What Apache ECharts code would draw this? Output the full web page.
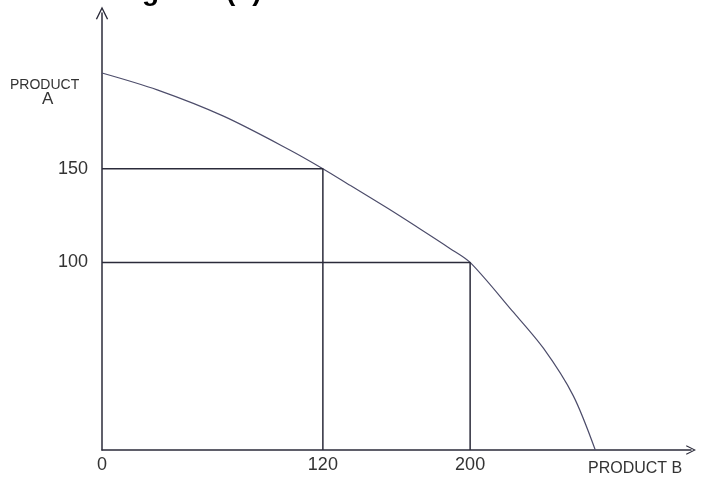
<!DOCTYPE html>
<html>
<head>
<meta charset="utf-8">
<script src="https://cdn.jsdelivr.net/npm/echarts@6/dist/echarts.min.js"></script>
<style>
  html, body { margin: 0; padding: 0; background: #fff; }
  #main { width: 704px; height: 479px; }
</style>
</head>
<body>
<div id="main"></div>
<script>
// production possibility curve
const curveB = [0, 30, 66, 102, 120, 135, 155, 171, 189, 200, 223, 240, 256, 268];
const curveA = [201, 192, 178, 160, 150, 141, 129, 119, 107.5, 100, 74, 54, 29, 0];

// the two marked combinations (product B, product A)
const pointOne = [120, 150];
const pointTwo = [200, 100];

const xTicks = [0, 120, 200];
const yTicks = [100, 150];

const lineColor = "#2b2b3a";
const handFont = "Liberation Sans";

// drop lines from each point to both axes
function dropLines(p) {
  return [[0, p[1]], [p[0], p[1]], [p[0], 0]];
}

let myChart = echarts.init(document.getElementById("main"));

// open chevron, tip pointing up
const caret = "path://M0,10 L5,0 L10,10 L9,10.5 L5,2.4 L1,10.5 Z";

let option = {
  animation: false,
  grid: {
    left: 102,
    right: 13,
    top: 13,
    bottom: 29
  },
  xAxis: {
    type: "value",
    min: 0,
    max: 320,
    splitLine: { show: false },
    axisTick: { show: false },
    axisLine: {
      lineStyle: { color: lineColor, width: 1.5 },
      symbol: ["none", caret],
      symbolSize: [16, 10]
    },
    axisLabel: {
      customValues: xTicks,
      margin: 6,
      color: "#333",
      fontSize: 18,
      fontFamily: handFont
    }
  },
  yAxis: {
    type: "value",
    min: 0,
    max: 233,
    splitLine: { show: false },
    axisTick: { show: false },
    axisLine: {
      lineStyle: { color: lineColor, width: 1.5 },
      symbol: ["none", caret],
      symbolSize: [18, 13]
    },
    axisLabel: {
      customValues: yTicks,
      margin: 14,
      color: "#333",
      fontSize: 18,
      fontFamily: handFont
    }
  },
  graphic: [
    {
      type: "text",
      left: 117,
      top: -22,
      style: {
        text: "Figure 2(b)",
        font: "bold 28px 'Liberation Sans'",
        fill: "#000"
      }
    },
    {
      type: "text",
      left: 10,
      top: 78,
      style: {
        text: "PRODUCT",
        font: "14px 'Liberation Sans'",
        fill: "#333"
      }
    },
    {
      type: "text",
      left: 42,
      top: 91,
      style: {
        text: "A",
        font: "17px 'Liberation Sans'",
        fill: "#333"
      }
    },
    {
      type: "text",
      left: 588,
      top: 461,
      style: {
        text: "PRODUCT B",
        font: "16px 'Liberation Sans'",
        fill: "#333"
      }
    }
  ],
  series: [
    {
      name: "curve",
      type: "line",
      smooth: 0.3,
      symbol: "none",
      lineStyle: { color: "#4d4d6b", width: 1.2 },
      data: curveB.map((b, i) => [b, curveA[i]])
    },
    {
      name: "point one",
      type: "line",
      symbol: "none",
      lineStyle: { color: lineColor, width: 1.5 },
      data: dropLines(pointOne)
    },
    {
      name: "point two",
      type: "line",
      symbol: "none",
      lineStyle: { color: lineColor, width: 1.5 },
      data: dropLines(pointTwo)
    }
  ]
};

myChart.setOption(option);
</script>
</body>
</html>
